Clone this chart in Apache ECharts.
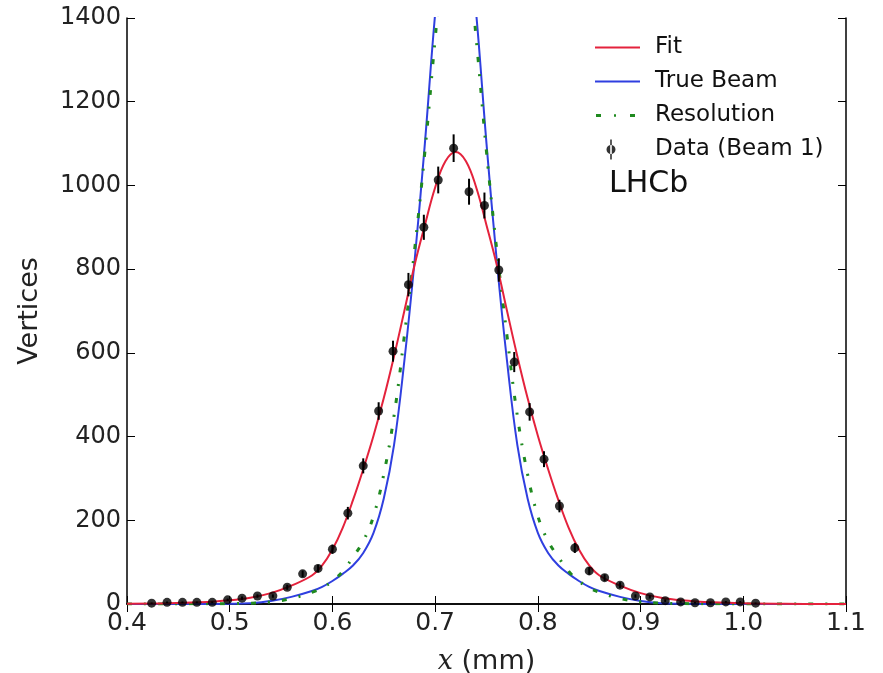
<!DOCTYPE html>
<html>
<head>
<meta charset="utf-8">
<title>LHCb beam profile</title>
<script src="https://cdn.jsdelivr.net/npm/echarts@6/dist/echarts.min.js"></script>
<style>
  html, body { margin: 0; padding: 0; background: #fff; }
  #chart { width: 883px; height: 673px; }
</style>
</head>
<body>
<div id="chart"></div>
<script>
// measured vertices per bin (Beam 1)
var binX = [0.424, 0.439, 0.454, 0.468, 0.483, 0.498, 0.512, 0.527, 0.542, 0.556,
            0.571, 0.586, 0.600, 0.615, 0.630, 0.645, 0.659, 0.674, 0.689, 0.703,
            0.718, 0.733, 0.748, 0.762, 0.777, 0.792, 0.806, 0.821, 0.836, 0.850,
            0.865, 0.880, 0.895, 0.909, 0.924, 0.939, 0.953, 0.968, 0.983, 0.997, 1.012];
var counts = [2, 4, 4, 4, 4, 10, 14, 19, 19, 40,
              72, 85, 131, 217, 330, 461, 604, 763, 900, 1013,
              1089, 985, 952, 798, 578, 459, 346, 234, 134, 79,
              63, 45, 19, 17, 8, 5, 3, 3, 5, 5, 2];
var countErr = [1.4, 2, 2, 2, 2, 3, 4, 4, 4, 6,
                8, 9, 11, 15, 18, 21, 25, 28, 30, 32,
                33, 31, 31, 28, 24, 21, 19, 15, 12, 9,
                8, 7, 4, 4, 3, 2, 2, 2, 2, 2, 1.4];

// curves
var curveX = [0.40, 0.44, 0.47, 0.50, 0.52, 0.54, 0.56, 0.58, 0.59, 0.60, 0.61,
              0.62, 0.63, 0.64, 0.65, 0.66, 0.67, 0.68, 0.69, 0.70, 0.71, 0.72,
              0.73, 0.74, 0.75, 0.76, 0.77, 0.78, 0.79, 0.80, 0.81, 0.82, 0.83,
              0.84, 0.85, 0.86, 0.88, 0.90, 0.92, 0.94, 0.97, 1.00, 1.04, 1.10];
var fitY = [0.5, 1.5, 4, 9, 15, 26, 44, 68, 92, 130, 182,
            248, 322, 402, 492, 592, 700, 810, 905, 995, 1058, 1080,
            1058, 995, 905, 810, 700, 592, 492, 402, 322, 248, 182,
            130, 92, 68, 44, 26, 15, 9, 4, 1.5, 0.5, 0.1];
var beamY = [0, 0, 0, 0.5, 2, 7, 17, 31, 41, 55, 72,
             92, 122, 170, 252, 380, 580, 820, 1100, 1410, 1650, 1750,
             1650, 1410, 1100, 820, 580, 380, 252, 170, 122, 92, 72,
             55, 41, 31, 17, 7, 2, 0.5, 0, 0, 0, 0];
var resY = [0, 0, 0.5, 1, 2, 5, 13, 28, 38, 55, 78,
            112, 150, 210, 310, 450, 640, 846, 1080, 1350, 1600, 1700,
            1600, 1350, 1080, 846, 640, 450, 310, 210, 150, 112, 78,
            55, 38, 28, 13, 5, 2, 1, 0.5, 0, 0, 0];

var FONT = 'DejaVu Sans';

// legend glyphs (tiny corner marks keep the 45x20 box so nothing is stretched)
var BOX = 'M0,0 L0.1,0 L0.1,0.1 Z M44.9,19.9 L45,19.9 L45,20 Z ';
var lineIcon = 'path://' + BOX + 'M0,9 L45,9 L45,11 L0,11 Z';
var dashDotIcon = 'path://' + BOX + 'M1,8.5 L6,8.5 L6,11.5 L1,11.5 Z M19,8.7 L21,8.7 L21,11.3 L19,11.3 Z M35,8.5 L40,8.5 L40,11.5 L35,11.5 Z';
var dataIcon = 'path://' + BOX + 'M15.2,0 L16.8,0 L16.8,20 L15.2,20 Z M11.5,10 A4.5,4.5 0 1,0 20.5,10 A4.5,4.5 0 1,0 11.5,10 Z';

function pairs(xs, ys) {
    var out = [];
    for (var i = 0; i < xs.length; i++) out.push([xs[i], ys[i]]);
    return out;
}

var errData = [];
for (var i = 0; i < binX.length; i++) errData.push([binX[i], counts[i], countErr[i]]);

var chart = echarts.init(document.getElementById('chart'));

var frameX = {
    type: 'value', min: 0.4, max: 1.1, interval: 0.1,
    axisLine: { lineStyle: { color: '#000', width: 1.5 } },
    axisTick: { inside: true, length: 8, lineStyle: { color: '#000', width: 1 } },
    splitLine: { show: false }
};
var frameY = {
    type: 'value', min: 0, max: 1400, interval: 200,
    axisLine: { show: true, lineStyle: { color: '#000', width: 1.5 } },
    axisTick: { show: true, inside: true, length: 8, lineStyle: { color: '#000', width: 1 } },
    splitLine: { show: false }
};

var option = {
    animation: false,
    backgroundColor: '#fff',
    textStyle: { fontFamily: FONT },
    grid: { left: 127, right: 37, top: 18, bottom: 69, outerBoundsMode: 'none' },
    title: {
        text: 'LHCb', left: 604, top: 164,
        textStyle: { fontFamily: FONT, fontSize: 30, fontWeight: 'normal', color: '#111' }
    },
    legend: {
        orient: 'vertical', left: 590, top: 31,
        itemWidth: 45, itemHeight: 20, itemGap: 11,
        textStyle: { fontFamily: FONT, fontSize: 23, color: '#111', padding: [0, 0, 0, 10] },
        data: [
            { name: 'Fit', icon: lineIcon },
            { name: 'True Beam', icon: lineIcon },
            { name: 'Resolution', icon: dashDotIcon },
            { name: 'Data (Beam 1)', icon: dataIcon }
        ]
    },
    xAxis: [
        Object.assign({}, frameX, {
            position: 'bottom',
            name: '{i|x} (mm)', nameLocation: 'middle', nameGap: 44,
            nameTextStyle: {
                fontFamily: FONT, fontSize: 27, color: '#222',
                rich: { i: { fontFamily: 'DejaVu Serif', fontStyle: 'italic', fontSize: 27, color: '#222' } }
            },
            axisLabel: {
                fontFamily: FONT, fontSize: 25, color: '#222', margin: 7,
                formatter: function (v) { return v.toFixed(1); }
            }
        }),
        Object.assign({}, frameX, { position: 'top', axisLabel: { show: false } })
    ],
    yAxis: [
        Object.assign({}, frameY, {
            position: 'left',
            name: 'Vertices', nameLocation: 'middle', nameGap: 84,
            nameTextStyle: { fontFamily: FONT, fontSize: 27, color: '#222' },
            axisLabel: {
                fontFamily: FONT, fontSize: 24, color: '#222', margin: 6,
                formatter: function (v) { return String(v); }
            }
        }),
        Object.assign({}, frameY, { position: 'right', axisLabel: { show: false } })
    ],
    series: [
        {
            name: 'True Beam', type: 'line', data: pairs(curveX, beamY),
            smooth: 0.4, symbol: 'none', z: 2,
            itemStyle: { color: '#2f3fe0' },
            lineStyle: { color: '#2f3fe0', width: 2 }
        },
        {
            name: 'Resolution', type: 'line', data: pairs(curveX, resY),
            smooth: 0.4, symbol: 'none', z: 3,
            itemStyle: { color: '#1f8a1f' },
            lineStyle: { color: '#1f8a1f', width: 3, type: [5, 12, 2, 12] }
        },
        {
            name: 'Fit', type: 'line', data: pairs(curveX, fitY),
            smooth: 0.4, symbol: 'none', z: 4,
            itemStyle: { color: '#e4223c' },
            lineStyle: { color: '#e4223c', width: 2 }
        },
        {
            name: 'errors', type: 'custom', data: errData, z: 5,
            renderItem: function (params, api) {
                var x = api.value(0), y = api.value(1), e = api.value(2);
                var lo = api.coord([x, y - e]);
                var hi = api.coord([x, y + e]);
                return {
                    type: 'line',
                    shape: { x1: lo[0], y1: lo[1], x2: hi[0], y2: hi[1] },
                    style: { stroke: '#000', lineWidth: 2 }
                };
            }
        },
        {
            name: 'Data (Beam 1)', type: 'scatter', data: pairs(binX, counts),
            symbol: 'circle', symbolSize: 9, z: 6,
            itemStyle: { color: '#000' }
        }
    ]
};
chart.setOption(option);
</script>
</body>
</html>
